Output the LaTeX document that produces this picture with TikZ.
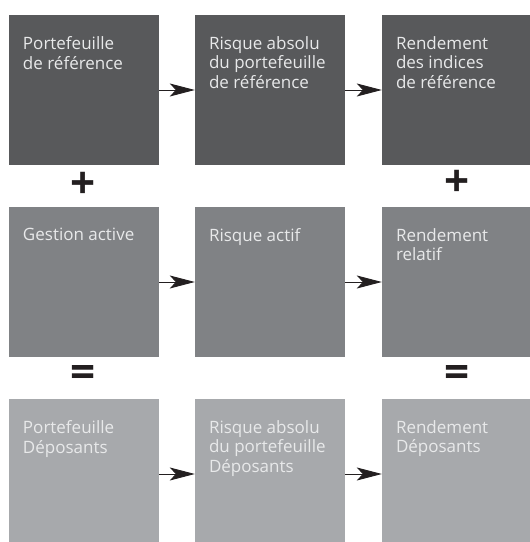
\documentclass[tikz,border=0pt]{standalone}
\usepackage{fontspec}
\setmainfont{Open Sans}
\usetikzlibrary{arrows.meta,positioning}
\definecolor{darkbox}{RGB}{88,89,91}
\definecolor{midbox}{RGB}{128,130,133}
\definecolor{lightbox}{RGB}{167,169,172}
\definecolor{boxtext}{RGB}{232,233,234}
\definecolor{inkblack}{RGB}{35,31,32}
\tikzset{
  cell/.style={draw=none, minimum width=150pt, minimum height=150pt, inner sep=0pt},
  celltext/.style={anchor=north west, inner sep=0pt, align=left, text=boxtext,
    font=\fontsize{17}{19.5}\selectfont},
  flow/.style={draw=inkblack, line width=0.9pt,
    -{Stealth[length=25pt, width=13pt, inset=6pt]}},
  sign/.style={text=inkblack, inner sep=0pt, font=\fontsize{44}{44}\selectfont\bfseries}
}

\begin{document}
\begin{tikzpicture}[x=1pt,y=1pt]
    \useasboundingbox (0,0) rectangle (530,542);

    % Row 1: reference portfolio
    \node[cell, fill=darkbox] (refport) at (84,452) {};
    \node[cell, fill=darkbox] (refrisk) at (270,452) {};
    \node[cell, fill=darkbox] (refret)  at (457,452) {};
    \node[celltext] (refporttxt) at ([xshift=14pt, yshift=-21.5pt]refport.north west) {Portefeuille\\de référence};
    \node[celltext] (refrisktxt) at ([xshift=14pt, yshift=-21.5pt]refrisk.north west) {Risque absolu\\du portefeuille\\de référence};
    \node[celltext] (refrettxt)  at ([xshift=14pt, yshift=-21.5pt]refret.north west) {Rendement\\des indices\\de référence};

    % Row 2: active management
    \node[cell, fill=midbox] (actport) at (84,260) {};
    \node[cell, fill=midbox] (actrisk) at (270,260) {};
    \node[cell, fill=midbox] (actret)  at (457,260) {};
    \node[celltext] (actporttxt) at ([xshift=14pt, yshift=-21.5pt]actport.north west) {Gestion active};
    \node[celltext] (actrisktxt) at ([xshift=14pt, yshift=-21.5pt]actrisk.north west) {Risque actif};
    \node[celltext] (actrettxt)  at ([xshift=14pt, yshift=-21.5pt]actret.north west) {Rendement\\relatif};

    % Row 3: depositors portfolio
    \node[cell, fill=lightbox] (depport) at (84,68) {};
    \node[cell, fill=lightbox] (deprisk) at (270,68) {};
    \node[cell, fill=lightbox] (depret)  at (457,68) {};
    \node[celltext] (depporttxt) at ([xshift=14pt, yshift=-21.5pt]depport.north west) {Portefeuille\\Déposants};
    \node[celltext] (deprisktxt) at ([xshift=14pt, yshift=-21.5pt]deprisk.north west) {Risque absolu\\du portefeuille\\Déposants};
    \node[celltext] (deprettxt)  at ([xshift=14pt, yshift=-21.5pt]depret.north west) {Rendement\\Déposants};

    % Arrows
    \draw[flow] (refport) -- (refrisk);
    \draw[flow] (refrisk) -- (refret);
    \draw[flow] (actport) -- (actrisk);
    \draw[flow] (actrisk) -- (actret);
    \draw[flow] (depport) -- (deprisk);
    \draw[flow] (deprisk) -- (depret);

    % Plus and equals signs
    \node[sign] (plusleft)   at (83,357) {+};
    \node[sign] (plusright)  at (457,359) {+};
    \node[sign] (equalleft)  at (83,165) {=};
    \node[sign] (equalright) at (457,165) {=};
\end{tikzpicture}
\end{document}
